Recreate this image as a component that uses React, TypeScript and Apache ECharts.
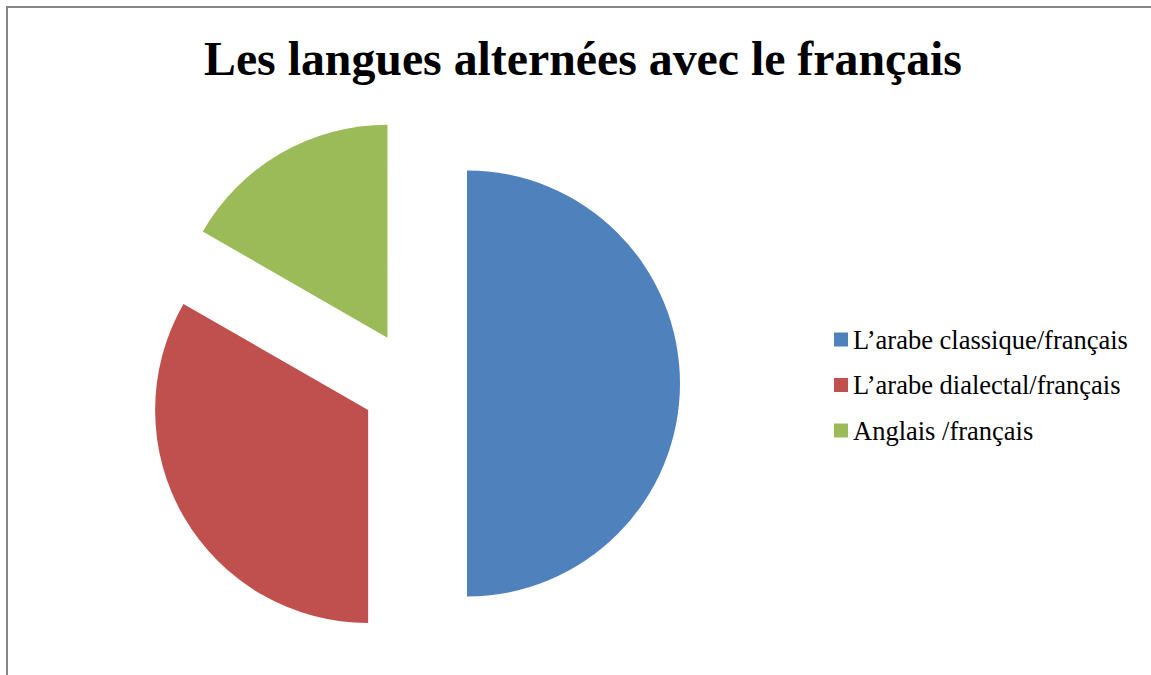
import React, { useEffect, useRef } from "react";
import * as echarts from "echarts";

const categories = [
  "L’arabe classique/français",
  "L’arabe dialectal/français",
  "Anglais /français",
];
const values = [50, 33.3, 16.7];
const colors = ["#4F81BD", "#C0504D", "#9BBB59"];
const titleText = "Les langues alternées avec le français";

export default function App() {
  const ref = useRef<HTMLDivElement>(null);
  useEffect(() => {
    if (!ref.current) return;
    const chart = echarts.init(ref.current, undefined, { renderer: "svg" });
    chart.setOption({
      animation: false,
      backgroundColor: "#ffffff",
      graphic: [
        {
          type: "rect",
          shape: { x: 7, y: 7, width: 1200, height: 700 },
          style: { fill: "none", stroke: "#868686", lineWidth: 2 },
          silent: true,
        },
      ],
      title: {
        text: titleText,
        left: 578,
        textAlign: "center",
        top: 29,
        textStyle: {
          fontFamily: "Liberation Serif",
          fontWeight: "bold",
          fontSize: 47.8,
          color: "#000000",
        },
      },
      legend: {
        orient: "vertical",
        left: 834,
        top: 326,
        padding: 0,
        icon: "rect",
        itemWidth: 14,
        itemHeight: 14,
        itemGap: 18.5,
        selectedMode: false,
        data: categories,
        textStyle: {
          fontFamily: "Liberation Serif",
          fontSize: 26.5,
          color: "#000000",
        },
      },
      series: [
        {
          type: "pie",
          center: [414, 383.5],
          radius: 213,
          startAngle: 90,
          clockwise: true,
          selectedMode: "multiple",
          selectedOffset: 53,
          silent: true,
          label: { show: false },
          labelLine: { show: false },
          emphasis: { disabled: true },
          data: categories.map((name, i) => ({
            name,
            value: values[i],
            selected: true,
            itemStyle: { color: colors[i] },
          })),
        },
      ],
    });
    return () => chart.dispose();
  }, []);
  return (
    <div
      ref={ref}
      style={{ position: "fixed", left: 0, top: 0, width: 1151, height: 675 }}
    />
  );
}
